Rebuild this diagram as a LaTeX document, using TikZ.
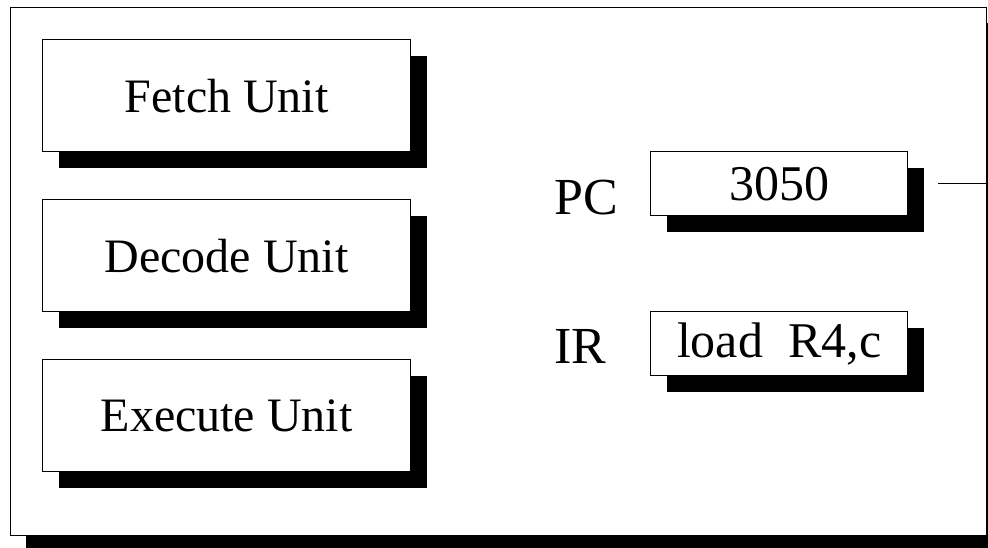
\documentclass[tikz,border=0pt]{standalone}
\usepackage{fontspec}
\setmainfont{Liberation Serif}
\usetikzlibrary{shadows}
\tikzset{
  shbox/.style={draw=black, line width=1.3pt, fill=white, inner sep=0pt,
    drop shadow={shadow xshift=16pt, shadow yshift=-16pt, fill=black, opacity=1}},
  unitbox/.style={shbox, anchor=north west, minimum width=368pt, minimum height=112pt,
    font=\fontsize{48}{56}\selectfont},
  regbox/.style={shbox, anchor=north west, minimum width=257pt, minimum height=64pt,
    font=\fontsize{50}{58}\selectfont},
  reglabel/.style={anchor=base, inner sep=0pt, font=\fontsize{52}{60}\selectfont},
  link/.style={draw=black, line width=1.3pt}
}
\begin{document}
\begin{tikzpicture}[x=1pt, y=-1pt]
\useasboundingbox[fill=white] (0,0) rectangle (988,548);
\node[draw=black, line width=1.3pt, fill=white, inner sep=0pt, anchor=north west,
  minimum width=976pt, minimum height=528pt,
  drop shadow={shadow xshift=15pt, shadow yshift=-15pt, fill=black, opacity=1}]
  (outer) at (10,7) {};
\node[unitbox] (fetch) at (42,39) {Fetch Unit};
\node[unitbox] (decode) at (42,199) {Decode Unit};
\node[unitbox] (execute) at (42,359) {Execute Unit};
\node[regbox] (pc) at (650,151) {3050};
\node[regbox] (ir) at (650,311) {load~~R4,c};
\node[reglabel] (pclabel) at (586,215) {PC};
\node[reglabel] (irlabel) at (580,363) {IR};
\coordinate (pcout) at ([xshift=30pt]pc.east);
\draw[link] (pcout) -- (pcout -| outer.east);
\end{tikzpicture}
\end{document}
